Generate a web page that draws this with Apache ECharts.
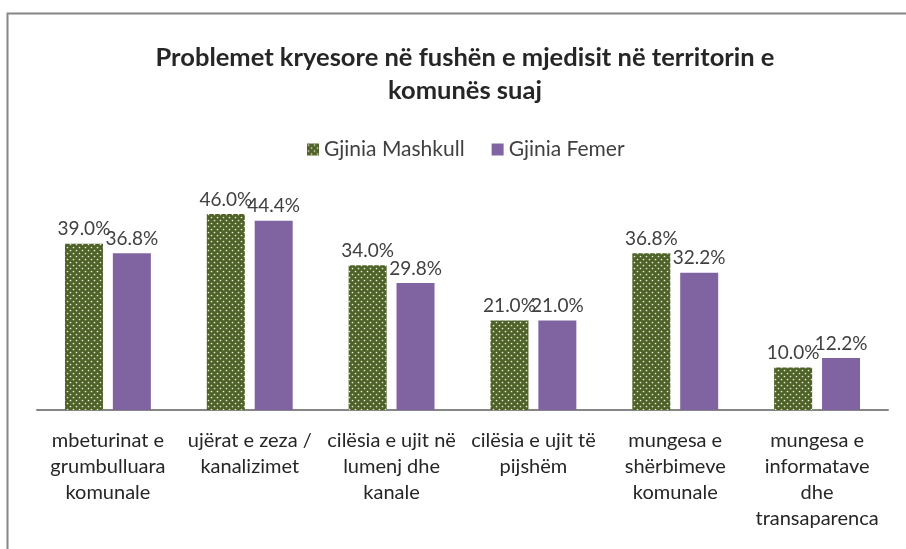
<!DOCTYPE html>
<html>
<head>
<meta charset="utf-8">
<script src="https://cdn.jsdelivr.net/npm/echarts@6/dist/echarts.min.js"></script>
<style>
html,body{margin:0;padding:0;background:#fff;}
#c{width:906px;height:549px;}
</style>
</head>
<body>
<div id="c"></div>
<script>
var titleText = "Problemet kryesore në fushën e mjedisit në territorin e\nkomunës suaj";
var categories = [
  "mbeturinat e\ngrumbulluara\nkomunale",
  "ujërat e zeza /\nkanalizimet",
  "cilësia e ujit në\nlumenj dhe\nkanale",
  "cilësia e ujit të\npijshëm",
  "mungesa e\nshërbimeve\nkomunale",
  "mungesa e\ninformatave\ndhe\ntransaparenca"
];
var seriesNames = ["Gjinia Mashkull", "Gjinia Femer"];
var maleValues = [39.0, 46.0, 34.0, 21.0, 36.8, 10.0];
var femaleValues = [36.8, 44.4, 29.8, 21.0, 32.2, 12.2];

function makePattern() {
  var cv = document.createElement('canvas');
  cv.width = 6; cv.height = 6;
  var ctx = cv.getContext('2d');
  ctx.fillStyle = '#4F6228';
  ctx.fillRect(0, 0, 6, 6);
  ctx.fillStyle = '#E8EDE0';
  ctx.beginPath(); ctx.arc(1.5, 1.5, 0.85, 0, Math.PI * 2); ctx.fill();
  ctx.beginPath(); ctx.arc(4.5, 4.5, 0.85, 0, Math.PI * 2); ctx.fill();
  return cv;
}
var pat = makePattern();
var greenFill = { image: pat, repeat: 'repeat' };

var chart = echarts.init(document.getElementById('c'), null, { renderer: 'canvas' });
var font = 'Lato, "Open Sans", sans-serif';
var labelStyle = {
  show: true,
  position: 'top',
  distance: 5,
  fontFamily: font,
  fontSize: 19,
  color: '#404040',
  formatter: function (p) { return p.value.toFixed(1) + '%'; }
};
chart.setOption({
  animation: false,
  textStyle: { fontFamily: font },
  graphic: [{
    type: 'rect',
    shape: { x: 7.5, y: 13.5, width: 1000, height: 700 },
    style: { fill: 'none', stroke: '#868686', lineWidth: 2 },
    silent: true
  }],
  title: {
    text: titleText,
    left: 460,
    textAlign: 'center',
    top: 36,
    textStyle: { fontFamily: font, fontSize: 25.5, fontWeight: 'bold', color: '#262626', lineHeight: 33 }
  },
  legend: {
    top: 134,
    left: 302,
    itemWidth: 12,
    itemHeight: 12,
    itemGap: 27,
    icon: 'rect',
    textStyle: { fontFamily: font, fontSize: 21, color: '#404040' },
    data: [
      { name: seriesNames[0], itemStyle: { color: greenFill } },
      { name: seriesNames[1] }
    ]
  },
  grid: { left: 37, right: 18, top: 197, bottom: 139, containLabel: false },
  xAxis: {
    type: 'category',
    data: categories,
    axisLine: { lineStyle: { color: '#868686', width: 2 } },
    axisTick: { show: false },
    axisLabel: {
      interval: 0,
      margin: 18,
      fontFamily: font,
      fontSize: 20,
      color: '#262626',
      lineHeight: 26
    }
  },
  yAxis: {
    type: 'value',
    min: 0,
    max: 50,
    show: false,
    splitLine: { show: false }
  },
  series: [
    {
      name: seriesNames[0],
      type: 'bar',
      data: maleValues,
      barWidth: 38,
      barGap: '26%',
      itemStyle: { color: greenFill },
      label: labelStyle
    },
    {
      name: seriesNames[1],
      type: 'bar',
      data: femaleValues,
      barWidth: 38,
      itemStyle: { color: '#8064A2' },
      label: labelStyle
    }
  ]
});
</script>
</body>
</html>
